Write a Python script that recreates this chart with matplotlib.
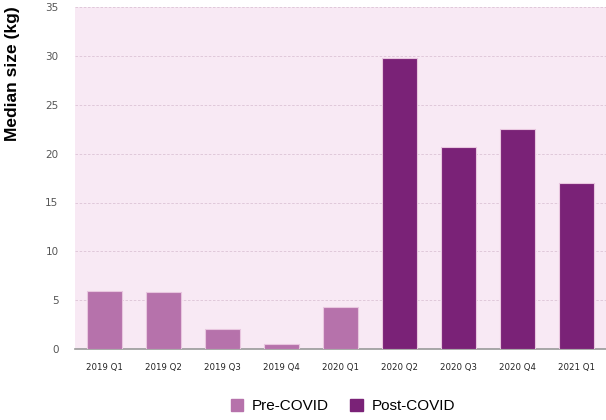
import numpy as np
import matplotlib.pyplot as plt
from matplotlib.patches import Patch

quarters = ['2019 Q1', '2019 Q2', '2019 Q3', '2019 Q4', '2020 Q1',
            '2020 Q2', '2020 Q3', '2020 Q4', '2021 Q1']
median_kg = [5.9, 5.8, 2.0, 0.5, 4.3, 29.8, 20.7, 22.5, 17.0]
period = ['Pre-COVID'] * 5 + ['Post-COVID'] * 4

colors = {'Pre-COVID': '#b672ab', 'Post-COVID': '#7a2277'}

fig = plt.figure(figsize=(6.06, 4.2), dpi=100)
ax = fig.add_axes([0.124, 0.169, 0.876, 0.814])
ax.set_facecolor('#f8e9f4')

x = np.arange(len(quarters))
ax.bar(x, median_kg, width=0.6, color=[colors[p] for p in period],
       edgecolor='#e8c6df', linewidth=0.8, zorder=3)

ax.set_xlim(-0.5, len(quarters) - 0.5)
ax.set_ylim(0, 35)
ax.set_yticks(range(0, 36, 5))
ax.grid(axis='y', color='#dcc3d6', linestyle=(0, (3, 2)), linewidth=0.6, zorder=1)

ax.set_xticks(x)
ax.set_xticklabels(quarters, family='DejaVu Sans', fontstretch='condensed',
                   fontweight='medium', fontsize=6.8, color='#222222')
ax.tick_params(axis='x', length=0, pad=10)
ax.tick_params(axis='y', length=0, pad=12, labelsize=7.5, labelcolor='#555555')

for s in ['top', 'right', 'left']:
    ax.spines[s].set_visible(False)
ax.spines['bottom'].set_color('#999999')
ax.spines['bottom'].set_linewidth(1.2)

ax.set_ylabel('Median size (kg)', fontsize=12.5, fontweight='bold',
              family=['Liberation Sans', 'DejaVu Sans'])
ax.yaxis.set_label_coords(-0.104, 0.805)

handles = [Patch(color=colors['Pre-COVID'], label='Pre-COVID'),
           Patch(color=colors['Post-COVID'], label='Post-COVID')]
fig.legend(handles=handles, loc='center', bbox_to_anchor=(0.566, 0.033), ncol=2,
           frameon=False, prop={'family': ['Liberation Sans', 'DejaVu Sans'], 'size': 11},
           handlelength=0.8, handleheight=0.8, handletextpad=0.6, columnspacing=1.4)

plt.savefig('out.png')
